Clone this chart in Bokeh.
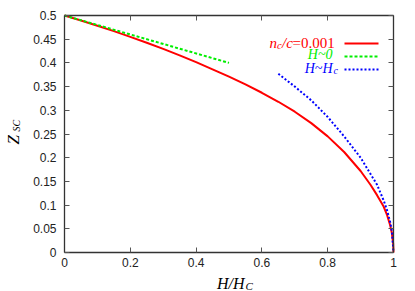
import math
from bokeh.plotting import figure
from bokeh.models import Range1d, FixedTicker, LinearAxis, Label
from bokeh.embed import file_html
from bokeh.resources import INLINE

# ---- data ----
h_red = [0, 0.05, 0.1, 0.15, 0.2, 0.25, 0.3, 0.35, 0.4, 0.45, 0.5, 0.55, 0.6, 0.65,
         0.7, 0.75, 0.8, 0.85, 0.9, 0.93, 0.95, 0.97, 0.98, 0.99, 0.995, 0.999, 1.0]
z_red = [0.5, 0.4895, 0.4785, 0.467, 0.455, 0.4425, 0.4295, 0.416, 0.4015, 0.3865,
         0.371, 0.3545, 0.337, 0.318, 0.297, 0.273, 0.245, 0.212, 0.172, 0.143, 0.121,
         0.097, 0.080, 0.057, 0.041, 0.019, 0.0]
h_green = [0.0, 0.5]
z_green = [0.5, 0.4]
h_blue = [0.65, 0.7, 0.75, 0.8, 0.85, 0.9, 0.95, 0.97, 0.98, 0.99, 0.995, 1.0]
z_blue = [0.377, 0.350, 0.321, 0.286, 0.245, 0.200, 0.143, 0.110, 0.090, 0.064, 0.045, 0.0]

x_ticks = [0, 0.2, 0.4, 0.6, 0.8, 1.0]
x_tick_labels = ["0", "0.2", "0.4", "0.6", "0.8", "1"]
y_ticks = [0, 0.05, 0.1, 0.15, 0.2, 0.25, 0.3, 0.35, 0.4, 0.45, 0.5]
y_tick_labels = ["0", "0.05", "0.1", "0.15", "0.2", "0.25", "0.3", "0.35", "0.4", "0.45", "0.5"]
X_MIN, X_MAX, Y_MIN, Y_MAX = 0.0, 1.0, 0.0, 0.5

RED = "#ff0000"
GREEN = "#00ee00"
BLUE = "#0000ff"

# The frame covers the whole canvas; the plotting box sits inside it so that
# axis titles (annotations) are not clipped.
W, H = 415, 291
BL, BW, BT, BH = 64, 329, 15, 237          # plotting box in canvas pixels
xs = (X_MAX - X_MIN) / BW
ys = (Y_MAX - Y_MIN) / BH
def dx(px):
    return X_MIN + (px - BL) * xs
def dy(py):
    return Y_MIN + (BT + BH - py) * ys

p = figure(width=W, height=H, output_backend="svg", toolbar_location=None,
           x_range=Range1d(dx(0), dx(W)), y_range=Range1d(dy(H), dy(0)),
           min_border=0, x_axis_location=None, y_axis_location=None)
p.grid.visible = False
p.background_fill_color = "white"
p.border_fill_color = "white"
p.outline_line_color = None

def make_axis(side, ticks, labels, loc, bounds, show_labels, standoff):
    a = LinearAxis(ticker=FixedTicker(ticks=ticks), fixed_location=loc, bounds=bounds)
    a.axis_line_color = "#333333"
    a.axis_line_width = 1.3
    a.major_tick_in = 5
    a.major_tick_out = 0
    a.minor_tick_line_color = None
    a.major_tick_line_color = "#555555"
    a.major_label_standoff = standoff
    if show_labels:
        a.major_label_overrides = {t: l for t, l in zip(ticks, labels)}
        a.major_label_text_font = "Liberation Sans"
        a.major_label_text_font_size = "12px"
        a.major_label_text_color = "#222222"
    else:
        a.major_label_text_alpha = 0
        a.major_label_text_font_size = "1px"
    p.add_layout(a, side)

make_axis("below", x_ticks, x_tick_labels, Y_MIN, (X_MIN, X_MAX), True, 5)
make_axis("left", y_ticks, y_tick_labels, X_MIN, (Y_MIN, Y_MAX), True, 8)
make_axis("above", x_ticks, x_tick_labels, Y_MAX, (X_MIN, X_MAX), False, 0)
make_axis("right", y_ticks, y_tick_labels, X_MAX, (Y_MIN, Y_MAX), False, 0)

# curves
p.line(h_red, z_red, line_color=RED, line_width=2)
p.line(h_green, z_green, line_color=GREEN, line_width=2, line_dash="3 2")
p.line(h_blue, z_blue, line_color=BLUE, line_width=2, line_dash="2 2")

# legend samples (gnuplot style: text then sample)
lx0, lx1 = dx(344), dx(378)
for py, col, dash in ((43, RED, "solid"), (56, GREEN, "3 2"), (69, BLUE, "2 2")):
    p.line([lx0, lx1], [dy(py), dy(py)], line_color=col, line_width=2, line_dash=dash)

def lab(text, px, py, size, color="black", style="italic", align="left", angle=0.0,
        font="Liberation Serif"):
    p.add_layout(Label(x=dx(px), y=dy(py), text=text, text_font=font,
                       text_font_size=f"{size}px", text_font_style=style,
                       text_color=color, text_align=align, text_baseline="alphabetic",
                       angle=angle))

# legend texts
lab("n", 269, 42, 15, RED)
lab("c", 276.5, 44.5, 10.5, RED)
lab("/c", 281.5, 42, 15, RED)
lab("=0.001", 292, 42, 15, RED, style="normal")
lab("H~0", 332, 53.5, 14, GREEN, align="right")
lab("H~H", 332, 67.5, 14, BLUE, align="right")
lab("c", 333, 70, 10, BLUE)

# axis titles
lab("H/H", 244, 282.5, 16, align="right")
lab("C", 245, 285.5, 11)
lab("Z", 13, 144, 17, angle=math.pi / 2)
lab("SC", 16, 131, 10, angle=math.pi / 2)

open("out.html", "w").write(file_html(p, INLINE))
